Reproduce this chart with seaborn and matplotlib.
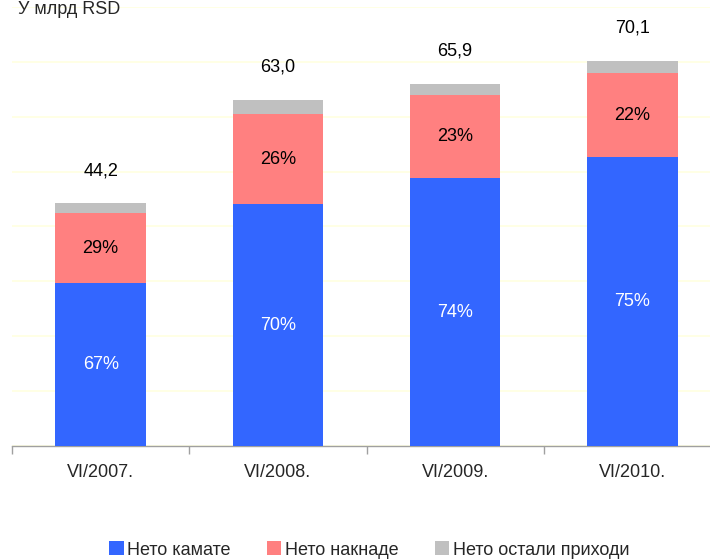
import numpy as np
import pandas as pd
import matplotlib
matplotlib.use("Agg")
import matplotlib.pyplot as plt
from matplotlib.patches import Patch
import seaborn as sns

# Data
periods = ["VI/2007.", "VI/2008.", "VI/2009.", "VI/2010."]
totals = [44.2, 63.0, 65.9, 70.1]
share_interest = [67, 70, 74, 75]   # Нето камате, %
share_fees = [29, 26, 23, 22]       # Нето накнаде, %
share_other = [4, 4, 3, 3]          # Нето остали приходи, %
series_names = ["Нето камате", "Нето накнаде", "Нето остали приходи"]
colors = ["#3366FF", "#FF8080", "#C0C0C0"]

sns.set_theme(style="white")
plt.rcParams["font.family"] = ["Liberation Sans", "DejaVu Sans"]

df = pd.DataFrame({
    "period": periods,
    "total": totals,
    "interest": np.array(totals) * np.array(share_interest) / 100,
    "fees": np.array(totals) * np.array(share_fees) / 100,
    "other": np.array(totals) * np.array(share_other) / 100,
})

fig = plt.figure(figsize=(7.10, 5.59), dpi=100)
ax = fig.add_axes([12 / 710, 113 / 559, 709 / 710, 439 / 559])

fs = 13
bottoms = np.zeros(len(df))
layers = ["interest", "fees", "other"]
shares = [share_interest, share_fees, share_other]
for col, color, sh in zip(layers, colors, shares):
    sns.barplot(data=df, x="period", y=col, color=color, width=0.51,
                bottom=bottoms, ax=ax, saturation=1, linewidth=0, zorder=3)
    if col != "other":
        tc = "white" if col == "interest" else "black"
        for i, (b, v, s) in enumerate(zip(bottoms, df[col], sh)):
            ax.text(i, b + v / 2, f"{s}%", ha="center", va="center",
                    fontsize=fs, color=tc, zorder=4)
    bottoms = bottoms + df[col].values

for i, t in enumerate(totals):
    ax.text(i, t + 6.0, f"{t:.1f}".replace(".", ","), ha="center",
            va="center", fontsize=fs, color="black")

ax.set_ylim(0, 80)
ax.set_xlim(-0.5, len(periods) - 0.5)
ax.set_yticks(np.arange(0, 81, 10))
ax.yaxis.grid(True, color="#FFFFE0", linewidth=1.2, zorder=0)
ax.set_yticklabels([])
ax.tick_params(axis="y", length=0)
ax.set_xlabel("")
ax.set_ylabel("")
for side in ["top", "right", "left"]:
    ax.spines[side].set_visible(False)
ax.spines["bottom"].set_color("#A0A0A0")
ax.spines["bottom"].set_linewidth(1.0)

ax.set_xticks(np.arange(len(periods)))
ax.set_xticklabels(periods, fontsize=fs)
ax.tick_params(axis="x", which="major", length=0, pad=13)
ax.set_xticks(np.arange(len(periods) + 1) - 0.5, minor=True)
ax.tick_params(axis="x", which="minor", length=6, color="#A0A0A0",
               width=1.0, direction="out", bottom=True)

fig.text(18 / 710, 1 - 1 / 559, "У млрд RSD", fontsize=fs, ha="left",
         va="top")

handles = [Patch(facecolor=c, edgecolor="none") for c in colors]
fig.legend(handles, series_names, loc="center", bbox_to_anchor=(0.52, 0.016),
           ncol=3, frameon=False, fontsize=fs, handlelength=0.8,
           handleheight=0.8, handletextpad=0.2, columnspacing=2.0,
           borderaxespad=0)

fig.savefig("out.png", dpi=100)
